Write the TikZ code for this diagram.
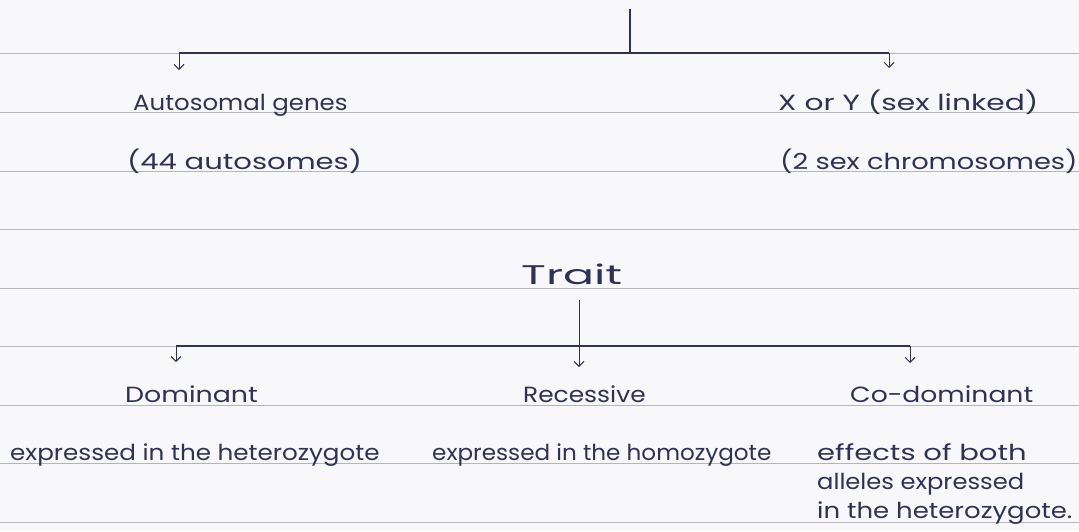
\documentclass[tikz,border=0pt]{standalone}
\usepackage{fontspec}
\setmainfont{Poppins}
\usetikzlibrary{arrows.meta}
\definecolor{ink}{HTML}{2E3356}
\definecolor{rulecol}{HTML}{B4B4BA}
\definecolor{paper}{HTML}{F8F8FA}
\newcommand{\hw}[2]{\scalebox{#1}[1]{#2}}
\begin{document}
\begin{tikzpicture}[x=1pt,y=-1pt,
  hand/.style={font=\fontsize{22}{26}\selectfont, text=ink, inner sep=0pt, anchor=base west},
  link/.style={draw=ink, line width=1.4pt},
  arr/.style={draw=ink, line width=0.9pt, -{Straight Barb[length=5pt,width=10pt]}},
  ruling/.style={draw=rulecol, line width=0.6pt}]
\fill[paper] (0,0) rectangle (1079,531);
\useasboundingbox (0,0) rectangle (1079,531);
\foreach \y in {53,112,171,229,288,346,405,463,522} \draw[ruling] (0,\y) -- (1079,\y);

% texts
\node[hand] (auto)  at (133,110) {\hw{1.11}{Autosomal genes}};
\node[hand] (auto2) at (127,169) {\hw{1.32}{(44 autosomes)}};
\node[hand] (sex)   at (778,110) {\hw{1.35}{X or Y (sex linked)}};
\node[hand] (sex2)  at (780,169) {\hw{1.24}{(2 sex chromosomes)}};
\node[hand, font=\fontsize{27}{30}\selectfont] (trait) at (521,284) {\hw{1.7}{Trait}};
\node[hand] (dom)   at (125,402) {\hw{1.22}{Dominant}};
\node[hand] (rec)   at (523,402) {\hw{1.13}{Recessive}};
\node[hand] (cod)   at (850,402) {\hw{1.21}{Co-dominant}};
\node[hand] (d1)    at (10,460)  {\hw{1.12}{expressed in the heterozygote}};
\node[hand] (r1)    at (432,460) {\hw{1.05}{expressed in the homozygote}};
\node[hand] (c1)    at (817,460) {\hw{1.32}{effects of both}};
\node[hand] (c2)    at (817,489) {\hw{1.1}{alleles expressed}};
\node[hand] (c3)    at (817,518) {\hw{1.18}{in the heterozygote.}};

% first tree
\coordinate (top) at (630,9);
\coordinate (j1) at (630,53);
\coordinate (jL) at (179,53);
\coordinate (jR) at (889,53);
\coordinate (aL) at (179,70);
\coordinate (aR) at (889,68);
\draw[link] (top) -- (j1);
\draw[link] (jL) -- (jR);
\draw[arr] (jL) -- (aL);
\draw[arr] (jR) -- (aR);

% second tree
\coordinate (t0) at (579,300);
\coordinate (k1) at (579,346);
\coordinate (kL) at (176,346);
\coordinate (kR) at (910,346);
\coordinate (bL) at (176,362);
\coordinate (bM) at (579,367);
\coordinate (bR) at (910,363);
\draw[arr] (t0) -- (bM);
\draw[link] (kL) -- (kR);
\draw[arr] (kL) -- (bL);
\draw[arr] (kR) -- (bR);
\end{tikzpicture}
\end{document}
